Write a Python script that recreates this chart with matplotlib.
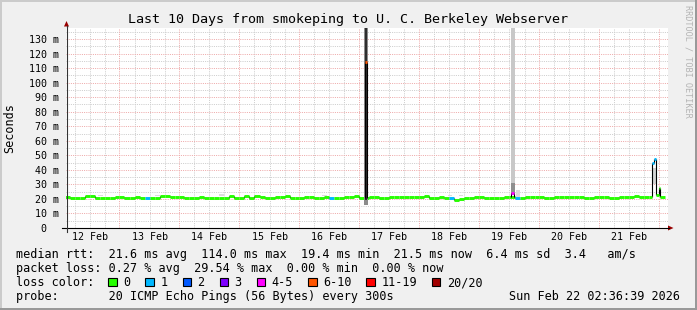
import numpy as np
import matplotlib.pyplot as plt
from matplotlib.lines import Line2D
from matplotlib.patches import Polygon, Rectangle

plt.rcParams['font.family'] = ['DejaVu Sans Mono']

W, H = 697, 310

title = "Last 10 Days from smokeping to U. C. Berkeley Webserver"

# time in hours after 12 Feb 00:00, graph ends Sun Feb 22 02:36:39
t_start, t_end = 2.6, 242.6
day_labels = ["12 Feb", "13 Feb", "14 Feb", "15 Feb", "16 Feb",
              "17 Feb", "18 Feb", "19 Feb", "20 Feb", "21 Feb"]
day_noon = [12, 36, 60, 84, 108, 132, 156, 180, 204, 228]

y_ticks = [0, 10, 20, 30, 40, 50, 60, 70, 80, 90, 100, 110, 120, 130]
y_labels = ["0  "] + ["%d m" % v for v in y_ticks[1:]]
y_max = 137.6

# median rtt (ms), 2 h bins starting 12 Feb 02:00
median_2h = [
    21.5, 20.9, 20.9, 20.4, 22.0, 22.0, 20.9, 20.9, 20.9, 20.9,
    21.5, 21.3, 20.9, 20.9, 21.2, 20.9, 20.9, 20.9, 20.9, 22.3,
    22.0, 21.3, 21.3, 21.1, 20.9, 20.9, 20.9, 21.3, 20.9, 20.9,
    20.9, 20.9, 20.9, 21.7, 20.9, 20.9, 21.7, 20.7, 21.7, 21.3,
    20.9, 20.9, 21.6, 21.6, 21.9, 20.9, 20.9, 20.9, 21.1, 21.5,
    20.9, 20.9, 21.1, 20.9, 20.9, 20.9, 21.0, 21.1, 22.0, 20.9,
    20.9, 21.0, 21.5, 20.9, 20.9, 21.5, 21.5, 21.3, 21.2, 21.1,
    21.5, 21.5, 22.0, 20.9, 20.9, 21.5, 20.9, 20.9, 19.4, 19.9,
    20.4, 20.9, 21.5, 21.3, 20.4, 20.4, 20.9, 20.4, 21.5, 21.5,
    20.4, 20.9, 21.1, 21.5, 21.5, 21.3, 20.5, 20.7, 21.2, 21.2,
    21.0, 21.3, 21.5, 21.5, 20.7, 20.6, 21.5, 21.5, 21.0, 20.4,
    20.4, 21.0, 21.0, 21.1, 21.8, 21.2, 21.2,
]
one_loss_bins = [16, 53, 77, 90]   # bins with 1/20 lost

# last evening, finer steps
tail_edges = [236.0, 236.9, 238.0, 238.6, 239.8, 240.4, 242.2]
tail_median = [21.0, 45.0, 47.5, 22.7, 27.5, 21.4]
tail_loss = [0, 1, 1, 0, 0, 0]

# short outages
spike_edges = [(122.2, 123.0), (180.7, 181.9)]
spike_median = [114.0, 23.9]
spike_loss = [5, 4]

# smoke drawn over the median line (outage columns)
front_start = [121.8, 122.2, 180.7, 180.7]
front_end = [123.4, 123.0, 182.3, 182.3]
front_low = [16.0, 19.0, 22.5, 22.5]
front_high = [140.0, 140.0, 140.0, 31.0]
front_shade = ["#8c8c8c", "#2e2e2e", "#c8c8c8", "#8e8e8e"]

# smoke behind the median line
smoke_start = [182.6, 236.9, 239.8, 15.4, 38.0, 64.0, 105.0, 155.4, 160.0]
smoke_end = [184.0, 238.6, 240.4, 17.4, 40.0, 66.0, 107.0, 157.0, 161.6]
smoke_low = [21.0, 30.0, 22.0, 22.0, 22.0, 22.0, 22.0, 22.0, 22.0]
smoke_high = [26.0, 41.0, 27.5, 23.0, 23.0, 23.5, 23.0, 23.0, 23.0]
smoke_shade = ["#dadada", "#d4d4d4", "#555555", "#dcdcdc", "#dcdcdc",
               "#dcdcdc", "#dcdcdc", "#dcdcdc", "#dcdcdc"]

loss_labels = ["0", "1", "2", "3", "4-5", "6-10", "11-19", "20/20"]
loss_colors = ["#26ff00", "#00b8ff", "#0059ff", "#7e00ff",
               "#ff00ff", "#ff5500", "#ff0000", "#a10000"]

rtt_stats = [21.6, 114.0, 19.4, 21.5, 6.4, 3.4]
loss_stats = [0.27, 29.54, 0.00, 0.00]
probe_text = "20 ICMP Echo Pings (56 Bytes) every 300s"
stamp = "Sun Feb 22 02:36:39 2026"

GRID = "#cdcdcd"
MGRID = "#eeaaaa"
ARROW = "#990000"


def fx(x):
    return x / W


def fy(y):
    return 1 - y / H


fig = plt.figure(figsize=(W / 100, H / 100), dpi=100, facecolor="#f0f0f0")
ax = fig.add_axes([fx(66), fy(228), 602 / W, 200 / H])
ax.set_facecolor("white")
ax.set_xlim(t_start, t_end + 0.8)
ax.set_ylim(0, y_max)
for s in ax.spines.values():
    s.set_visible(False)

ax.set_xticks(day_noon, day_labels)
ax.set_yticks(y_ticks, y_labels)
ax.tick_params(axis="x", length=0, pad=3.0, labelsize=7.2)
ax.tick_params(axis="y", length=0, pad=4.8, labelsize=7.2)

# grid
dot = (0, (1, 1.2))
for h in range(6, 243, 6):
    if h % 24:
        ax.axvline(h, color=GRID, lw=0.72, ls=dot, zorder=1)
for v in range(5, 140, 10):
    ax.axhline(v, color=GRID, lw=0.72, ls=dot, zorder=1)
for h in range(24, 241, 24):
    ax.axvline(h, color=MGRID, lw=0.72, ls=dot, zorder=1.1)
for v in y_ticks[1:]:
    ax.axhline(v, color=MGRID, lw=0.72, ls=dot, zorder=1.1)

# smoke behind
for a, b, lo, hi, c in zip(smoke_start, smoke_end, smoke_low, smoke_high, smoke_shade):
    ax.fill_between([a, b], lo, hi, color=c, lw=0, zorder=2)

# median line coloured by loss
loss_2h = [1 if i in one_loss_bins else 0 for i in range(len(median_2h))]
edges = np.array(list(np.arange(2.0, 236.1, 2.0)) + tail_edges[1:])
med = np.array(median_2h + tail_median)
loss = np.array(loss_2h + tail_loss)
chg = np.nonzero(np.diff(med))[0]
ax.vlines(edges[chg + 1], np.minimum(med[chg], med[chg + 1]),
          np.maximum(med[chg], med[chg + 1]), color="black", lw=0.8, zorder=2.9)
ax.hlines(med, edges[:-1], edges[1:], colors=[loss_colors[k] for k in loss],
          lw=2.1, zorder=3)

# outage columns
for a, b, lo, hi, c in zip(front_start, front_end, front_low, front_high, front_shade):
    ax.fill_between([a, b], lo, hi, color=c, lw=0, zorder=3.1)
for (a, b), v, k in zip(spike_edges, spike_median, spike_loss):
    base = med[np.searchsorted(edges, a) - 1]
    ax.vlines([a, b], base, v, color="black", lw=0.8, zorder=4)
    ax.hlines(v, a, b, color=loss_colors[k], lw=2.0, zorder=4.1)

# axes with arrows
fig.add_artist(Line2D([fx(62), fx(669)], [fy(228), fy(228)], color="black", lw=0.8))
fig.add_artist(Line2D([fx(66.5), fx(66.5)], [fy(231.5), fy(26)], color="#333333", lw=0.8))
fig.add_artist(Polygon([(fx(668), fy(225.5)), (fx(668), fy(230.5)), (fx(673.5), fy(228))],
                       closed=True, color=ARROW, lw=0))
fig.add_artist(Polygon([(fx(64), fy(26.5)), (fx(69), fy(26.5)), (fx(66.5), fy(21))],
                       closed=True, color=ARROW, lw=0))

# frame
fig.add_artist(Rectangle((0, fy(2)), 1, 2 / H, transform=fig.transFigure, color="#cbcbcb", lw=0))
fig.add_artist(Rectangle((0, 0), 2 / W, 1, transform=fig.transFigure, color="#cbcbcb", lw=0))
fig.add_artist(Rectangle((0, 0), 1, 2 / H, transform=fig.transFigure, color="#999999", lw=0))
fig.add_artist(Rectangle((fx(695), 0), 2 / W, 1, transform=fig.transFigure, color="#999999", lw=0))

fig.text(fx(348.5), fy(19), title, size=9.6, ha="center", va="center")
fig.text(fx(10), fy(128), "Seconds", size=8.5, rotation=90, ha="center", va="center")
fig.text(fx(688), fy(5), "RRDTOOL / TOBI OETIKER", size=6.1, rotation=270,
         ha="center", va="top", color="#b4b4b4")

row1 = ("median rtt:  %.1f ms avg  %.1f ms max  %.1f ms min  %.1f ms now  %.1f ms sd  %.1f   am/s"
        % tuple(rtt_stats))
row2 = "packet loss: %.2f %% avg  %.2f %% max  %.2f %% min  %.2f %% now" % tuple(loss_stats)
fig.text(fx(16), fy(254.5), row1, size=8.5, va="center")
fig.text(fx(16), fy(268.5), row2, size=8.5, va="center")
fig.text(fx(16), fy(282.5), "loss color:", size=8.5, va="center")
fig.text(fx(16), fy(296.5), "probe:       " + probe_text, size=8.5, va="center")
fig.text(fx(680), fy(296.5), stamp, size=8.5, va="center", ha="right")

x = 108.3
for lab, col in zip(loss_labels, loss_colors):
    fig.add_artist(Rectangle((fx(x), fy(286.2)), 8.5 / W, 8.5 / H, transform=fig.transFigure,
                             facecolor=col, edgecolor="black", lw=0.8))
    fig.text(fx(x + 15), fy(282.5), lab, size=8.5, va="center")
    x += 30 + 7.1 * len(lab)

fig.savefig("out.png", dpi=100, facecolor=fig.get_facecolor())
